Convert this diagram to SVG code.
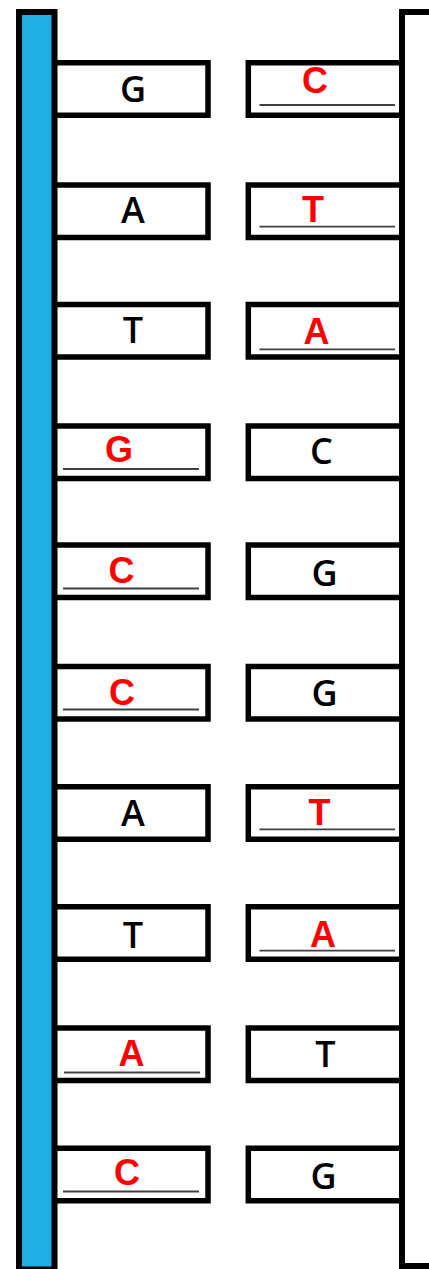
<svg xmlns="http://www.w3.org/2000/svg" width="429" height="1269" viewBox="0 0 429 1269">
<style>
.box{fill:#fff;stroke:#000;stroke-width:5.5}
.bk{font-family:"Open Sans","Noto Sans","DejaVu Sans",sans-serif;font-size:36px;font-weight:600;fill:#000;text-anchor:middle}
.rd{font-family:"Liberation Sans",Arial,sans-serif;font-weight:bold;font-size:36px;fill:#ff0000;text-anchor:middle}
.ul{stroke:#404040;stroke-width:1.8}
</style>
<rect width="429" height="1269" fill="#fff"/>
<g id="left-boxes">
<g id="L1"><rect class="box" x="54" y="62.75" width="154" height="52.5"/><text class="bk" x="133" y="102">G</text></g>
<g id="L2"><rect class="box" x="54" y="185" width="154" height="52.5"/><text class="bk" x="133" y="222.5">A</text></g>
<g id="L3"><rect class="box" x="54" y="304.5" width="154" height="52.5"/><text class="bk" x="133" y="343">T</text></g>
<g id="L4"><rect class="box" x="54" y="426" width="154" height="52.5"/><text class="rd" x="119" y="462">G</text><line class="ul" x1="63" y1="469" x2="199" y2="469"/></g>
<g id="L5"><rect class="box" x="54" y="545" width="154" height="52.5"/><text class="rd" x="121.5" y="583">C</text><line class="ul" x1="63" y1="588.5" x2="199" y2="588.5"/></g>
<g id="L6"><rect class="box" x="54" y="666.5" width="154" height="52.5"/><text class="rd" x="122" y="704.5">C</text><line class="ul" x1="63" y1="709.5" x2="199" y2="709.5"/></g>
<g id="L7"><rect class="box" x="54" y="786.75" width="154" height="52.5"/><text class="bk" x="133" y="825.5">A</text></g>
<g id="L8"><rect class="box" x="54" y="906.75" width="154" height="52.5"/><text class="bk" x="133" y="947.5">T</text></g>
<g id="L9"><rect class="box" x="54" y="1028" width="154" height="52.5"/><text class="rd" x="131.5" y="1066">A</text><line class="ul" x1="64" y1="1072.5" x2="200" y2="1072.5"/></g>
<g id="L10"><rect class="box" x="54" y="1148.25" width="154" height="52.5"/><text class="rd" x="127" y="1185">C</text><line class="ul" x1="63" y1="1191.5" x2="199" y2="1191.5"/></g>
</g>
<g id="right-boxes">
<g id="R1"><rect class="box" x="248.3" y="62.75" width="155" height="52.5"/><text class="rd" x="315" y="93">C</text><line class="ul" x1="259.5" y1="105" x2="395" y2="105"/></g>
<g id="R2"><rect class="box" x="248.3" y="185" width="155" height="52.5"/><text class="rd" x="313" y="221.5">T</text><line class="ul" x1="259.5" y1="226.7" x2="395" y2="226.7"/></g>
<g id="R3"><rect class="box" x="248.3" y="304.5" width="155" height="52.5"/><text class="rd" x="316.5" y="344">A</text><line class="ul" x1="259.5" y1="349.3" x2="395" y2="349.3"/></g>
<g id="R4"><rect class="box" x="248.3" y="426" width="155" height="52.5"/><text class="bk" x="321.5" y="463.5">C</text></g>
<g id="R5"><rect class="box" x="248.3" y="545" width="155" height="52.5"/><text class="bk" x="324.5" y="585.5">G</text></g>
<g id="R6"><rect class="box" x="248.3" y="666.5" width="155" height="52.5"/><text class="bk" x="324.5" y="705.5">G</text></g>
<g id="R7"><rect class="box" x="248.3" y="786.75" width="155" height="52.5"/><text class="rd" x="319.5" y="825">T</text><line class="ul" x1="259.5" y1="829.3" x2="395" y2="829.3"/></g>
<g id="R8"><rect class="box" x="248.3" y="906.75" width="155" height="52.5"/><text class="rd" x="323" y="946.5">A</text><line class="ul" x1="259.5" y1="950.7" x2="395" y2="950.7"/></g>
<g id="R9"><rect class="box" x="248.3" y="1028" width="155" height="52.5"/><text class="bk" x="325.5" y="1066.5">T</text></g>
<g id="R10"><rect class="box" x="248.3" y="1148.25" width="155" height="52.5"/><text class="bk" x="323.5" y="1188.5">G</text></g>
</g>
<g id="connectors">
<g id="left-backbone"><rect x="19" y="12" width="35.5" height="1257.5" fill="#20aee4" stroke="#000" stroke-width="6"/></g>
<g id="right-backbone"><rect x="402" y="12" width="60" height="1254" fill="#fff" stroke="#000" stroke-width="6"/></g>
</g>
</svg>
